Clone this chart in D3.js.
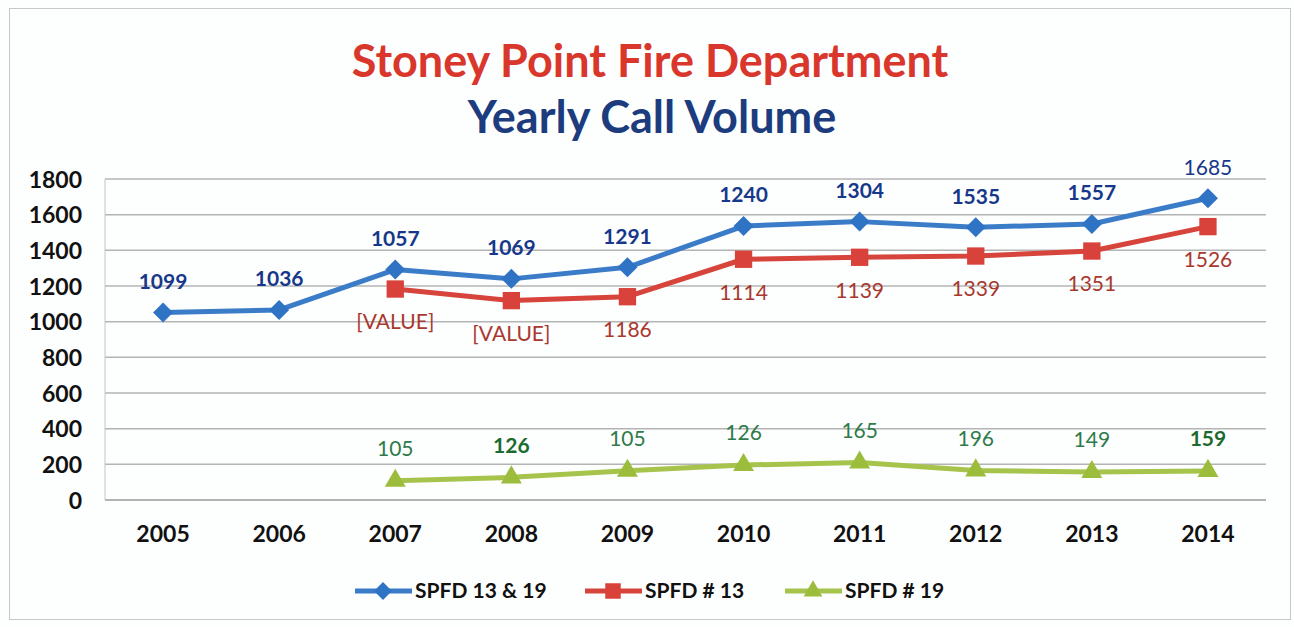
<!DOCTYPE html>
<html>
<head>
<meta charset="utf-8">
<script src="https://cdn.jsdelivr.net/npm/d3@7"></script>
<style>
  html, body { margin: 0; padding: 0; background: #fff; }
  svg { display: block; font-family: Lato, "Open Sans", sans-serif; }
</style>
</head>
<body>
<div id="chart"></div>
<script>
// categories
const years = ["2005", "2006", "2007", "2008", "2009", "2010", "2011", "2012", "2013", "2014"];

// series values
const totalCalls = [1052, 1066, 1292, 1240, 1305, 1536, 1561, 1529, 1548, 1692];
const station13 = [null, null, 1183, 1118, 1140, 1350, 1361, 1368, 1396, 1533];
const station19 = [null, null, 108, 127, 164, 196, 210, 166, 157, 163];

// data labels as printed on the chart (they don't match the points)
const totalLabels = ["1099", "1036", "1057", "1069", "1291", "1240", "1304", "1535", "1557", "1685"];
const st13Labels = [null, null, "[VALUE]", "[VALUE]", "1186", "1114", "1139", "1339", "1351", "1526"];
const st19Labels = [null, null, "105", "126", "105", "126", "165", "196", "149", "159"];

const seriesNames = ["SPFD 13 & 19", "SPFD # 13", "SPFD # 19"];
const yTicks = [0, 200, 400, 600, 800, 1000, 1200, 1400, 1600, 1800];

(function() {
  const W = 1294, H = 627;
  const plot = { left: 105, right: 1266, top: 179, bottom: 500 };

  const svg = d3.select("#chart").append("svg")
    .attr("width", W).attr("height", H);

  svg.append("rect").attr("width", W).attr("height", H).attr("fill", "#fdfefe");
  // faint outer frame
  svg.append("rect")
    .attr("x", 9.5).attr("y", 8.5).attr("width", 1281).attr("height", 611)
    .attr("fill", "none").attr("stroke", "#c8c8c8").attr("stroke-width", 1);

  // titles
  svg.append("text")
    .attr("x", 650).attr("y", 77).attr("text-anchor", "middle")
    .style("font-size", "45px").style("font-weight", 700).style("fill", "#d9362c")
    .text("Stoney Point Fire Department");
  svg.append("text")
    .attr("x", 652).attr("y", 133).attr("text-anchor", "middle")
    .style("font-size", "45px").style("font-weight", 700).style("fill", "#1c3c7e")
    .text("Yearly Call Volume");

  const x = d3.scaleBand().domain(years).range([plot.left, plot.right]).padding(0);
  const cx = d => x(d) + x.bandwidth() / 2;
  const y = d3.scaleLinear().domain([0, 1800]).range([plot.bottom, plot.top]);

  // gridlines
  svg.append("g").selectAll("line").data(yTicks).join("line")
    .attr("x1", plot.left).attr("x2", plot.right)
    .attr("y1", d => y(d)).attr("y2", d => y(d))
    .attr("stroke", d => d === 0 ? "#9a9a9a" : "#b4b4b4").attr("stroke-width", 1.5);
  svg.append("line")
    .attr("x1", plot.left).attr("x2", plot.left)
    .attr("y1", plot.top).attr("y2", plot.bottom)
    .attr("stroke", "#c4c4c4").attr("stroke-width", 1);

  // y axis labels
  const yAxis = d3.axisLeft(y).tickValues(yTicks).tickFormat(d3.format("d")).tickSize(0).tickPadding(0);
  const gy = svg.append("g").attr("transform", "translate(82,0)").call(yAxis);
  gy.select(".domain").remove();
  gy.selectAll("text")
    .style("font-family", "Lato, sans-serif").style("font-size", "23px")
    .style("font-weight", 700).style("fill", "#111").attr("dy", "0.36em");

  // x axis labels
  const xAxis = d3.axisBottom(x).tickSize(0).tickPadding(0);
  const gx = svg.append("g").attr("transform", "translate(0,526)").call(xAxis);
  gx.select(".domain").remove();
  gx.selectAll("text")
    .style("font-family", "Lato, sans-serif").style("font-size", "23px")
    .style("font-weight", 700).style("fill", "#111").attr("dy", "0.7em");

  // diamond = square turned 45 degrees, like the spreadsheet marker
  const series = [
    { vals: totalCalls, labels: totalLabels, line: "#3a7cc8", mark: "#2f73c4", shape: d3.symbolSquare, rot: 45, size: 200,
      labColor: "#17388a", labDy: -31, bold: [0,1,2,3,4,5,6,7,8] },
    { vals: station13, labels: st13Labels, line: "#d7443c", mark: "#d8423a", shape: d3.symbolSquare, rot: 0, size: 300,
      labColor: "#a9382f", labDy: 33, bold: [] },
    { vals: station19, labels: st19Labels, line: "#a6c44c", mark: "#9cbd3c", shape: d3.symbolTriangle, rot: 0, size: 190,
      labColor: "#2f7a4a", labDy: -32, bold: [3, 9] }
  ];

  const lineGen = d3.line()
    .defined(d => d.v != null)
    .x(d => cx(d.year)).y(d => y(d.v));

  series.forEach(s => {
    const pts = years.map((yr, i) => ({ year: yr, v: s.vals[i], label: s.labels[i], i }));
    svg.append("path").datum(pts)
      .attr("d", lineGen).attr("fill", "none")
      .attr("stroke", s.line).attr("stroke-width", 5).attr("stroke-linejoin", "round");

    const valid = pts.filter(d => d.v != null);
    svg.append("g").selectAll("path").data(valid).join("path")
      .attr("d", d3.symbol(s.shape, s.size))
      .attr("transform", d => `translate(${cx(d.year)},${y(d.v)}) rotate(${s.rot})`)
      .attr("fill", s.mark);

    svg.append("g").selectAll("text").data(valid).join("text")
      .attr("x", d => cx(d.year)).attr("y", d => y(d.v) + s.labDy)
      .attr("dy", "0.35em").attr("text-anchor", "middle")
      .style("font-size", "21px")
      .style("font-weight", d => s.bold.includes(d.i) ? 700 : 400)
      .style("fill", d => s.bold.includes(d.i) && s.shape === d3.symbolTriangle ? "#1d6a30" : s.labColor)
      .text(d => d.label);
  });

  // legend
  const legendX = [355, 585, 785];
  const lg = svg.append("g");
  series.forEach((s, i) => {
    const x0 = legendX[i], ly = 591;
    lg.append("line").attr("x1", x0).attr("x2", x0 + 57).attr("y1", ly).attr("y2", ly)
      .attr("stroke", s.line).attr("stroke-width", 5);
    lg.append("path").attr("d", d3.symbol(s.shape, s.size * 0.8))
      .attr("transform", `translate(${x0 + 28},${ly}) rotate(${s.rot})`)
      .attr("fill", s.mark);
    lg.append("text").attr("x", x0 + 60).attr("y", ly).attr("dy", "0.35em")
      .style("font-size", "21px").style("font-weight", 700).style("fill", "#111")
      .text(seriesNames[i]);
  });
})();
</script>
</body>
</html>
